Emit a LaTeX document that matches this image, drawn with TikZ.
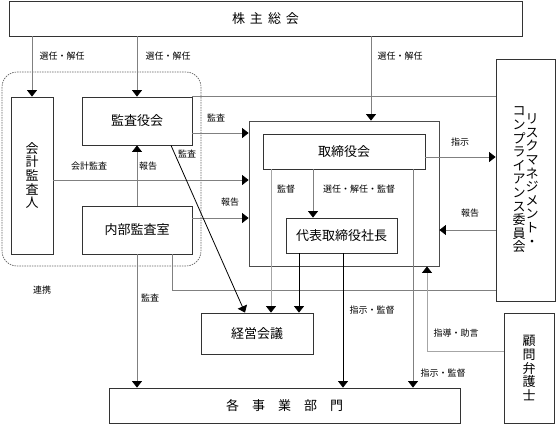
\documentclass[tikz,border=0pt]{standalone}
\usepackage{fontspec}
\setmainfont{Noto Sans CJK JP}
\usetikzlibrary{arrows.meta}
\begin{document}
\begin{tikzpicture}[x=1pt,y=-1pt,
  box/.style={draw=black!80,line width=0.8pt,inner sep=0pt,font=\fontsize{13}{13.6}\selectfont,align=center},
  lbl/.style={font=\fontsize{9}{9}\selectfont,inner sep=0pt},
  arr/.style={draw=black!50,line width=0.8pt,-{Triangle[width=10pt,length=6.5pt,color=black]}},
  conn/.style={draw=black!50,line width=0.8pt},
  group/.style={draw=black!60,line width=0.7pt,dash pattern=on 1.5pt off 1pt,rounded corners=15pt}]
\useasboundingbox (0,0) rectangle (556,424);

\node[box,minimum width=513pt,minimum height=35pt] (soukai) at (265.5,18.5) {株\hspace{5pt}主\hspace{5pt}総\hspace{5pt}会};
\node[box,minimum width=42pt,minimum height=157pt] (kaikei) at (32,175.5) {会\\計\\監\\査\\人};
\node[box,minimum width=110pt,minimum height=48pt] (kansa) at (137,121) {監査役会};
\node[box,minimum width=110pt,minimum height=48pt] (naibu) at (137,230) {内部監査室};
\node[box,draw=black!70,minimum width=190pt,minimum height=145pt] (board) at (344,193.5) {};
\node[box,minimum width=162pt,minimum height=35pt] (torikai) at (344,151.5) {取締役会};
\node[box,minimum width=111pt,minimum height=35pt] (shacho) at (341.5,235.5) {代表取締役社長};
\node[box,minimum width=59pt,minimum height=242pt] (risk) at (525.5,180)
  {\parbox[c]{13pt}{\centering コ\\ン\\プ\\ラ\\イ\\ア\\ン\\ス\\委\\員\\会}\parbox[c]{13pt}{\centering リ\\ス\\ク\\マ\\ネ\\ジ\\メ\\ン\\ト\\・}};
\node[box,minimum width=50pt,minimum height=110pt] (komon) at (529,368) {顧\\問\\弁\\護\\士};
\node[box,minimum width=112pt,minimum height=41pt] (keiei) at (257,333.5) {経営会議};
\node[box,minimum width=351pt,minimum height=35pt] (jigyo) at (284.5,405.5) {各\hspace{1em}事\hspace{1em}業\hspace{1em}部\hspace{1em}門};

\draw[group] (2,72) rectangle (201,266);

% 株主総会から
\draw[arr] (soukai.south -| kaikei.north) -- (kaikei.north);
\draw[arr] (soukai.south -| kansa.north) -- (kansa.north);
\draw[arr] (soukai.south -| 371,0) -- (board.north -| 371,0);

% 監査役会・会計監査人・内部監査室
\draw[conn] (kansa.north east) -- (kansa.north east -| risk.west);
\draw[arr] (kansa.east |- 0,133) -- (board.west |- 0,133);
\draw[arr] (kaikei.east |- 0,180) -- (board.west |- 0,180);
\draw[arr] (naibu.east |- 0,218) -- (board.west |- 0,218);
\draw[arr] (naibu.north) -- (kansa.south);
\draw[arr] (naibu.south) -- (naibu.south |- jigyo.north);
\draw[conn] (naibu.south -| 172,0) |- (risk.west |- 0,290);
\draw[arr,draw=black] (kansa.south -| 171,0) -- (keiei.north -| 245,0);

% 取締役会・代表取締役社長
\draw[arr] (torikai.south -| 313,0) -- (shacho.north -| 313,0);
\draw[arr,draw=black!35] (torikai.south -| 271,0) -- (keiei.north -| 271,0);
\draw[arr] (torikai.south -| 413,0) -- (jigyo.north -| 413,0);
\draw[arr,draw=black] (shacho.south -| 299,0) -- (keiei.north -| 299,0);
\draw[arr,draw=black] (shacho.south -| 343,0) -- (jigyo.north -| 343,0);
\draw[arr] (torikai.east |- 0,157) -- (risk.west |- 0,157);
\draw[arr] (risk.west |- 0,230) -- (board.east |- 0,230);
\draw[arr,draw=black!35] (komon.west |- 0,351) -| (board.south -| 427,0);

\node[lbl] (sen1) at (62,56) {選任・解任};
\node[lbl] (sen2) at (168,56) {選任・解任};
\node[lbl] (sen3) at (400,56) {選任・解任};
\node[lbl] (kansa1) at (216,118) {監査};
\node[lbl] (kansa2) at (187,154) {監査};
\node[lbl] (kaikeikansa) at (89,166) {会計監査};
\node[lbl] (houkoku1) at (148,166) {報告};
\node[lbl] (houkoku2) at (230,202) {報告};
\node[lbl] (kantoku) at (286,189) {監督};
\node[lbl] (senkan) at (359,189) {選任・解任・監督};
\node[lbl] (shiji) at (460,142) {指示};
\node[lbl] (houkoku3) at (470,213) {報告};
\node[lbl] (shiji1) at (372,310) {指示・監督};
\node[lbl] (shidou) at (456,333) {指導・助言};
\node[lbl] (shiji2) at (443,373) {指示・監督};
\node[lbl] (kansa3) at (150,298) {監査};
\node[lbl] (renkei) at (42,290) {連携};
\end{tikzpicture}
\end{document}
